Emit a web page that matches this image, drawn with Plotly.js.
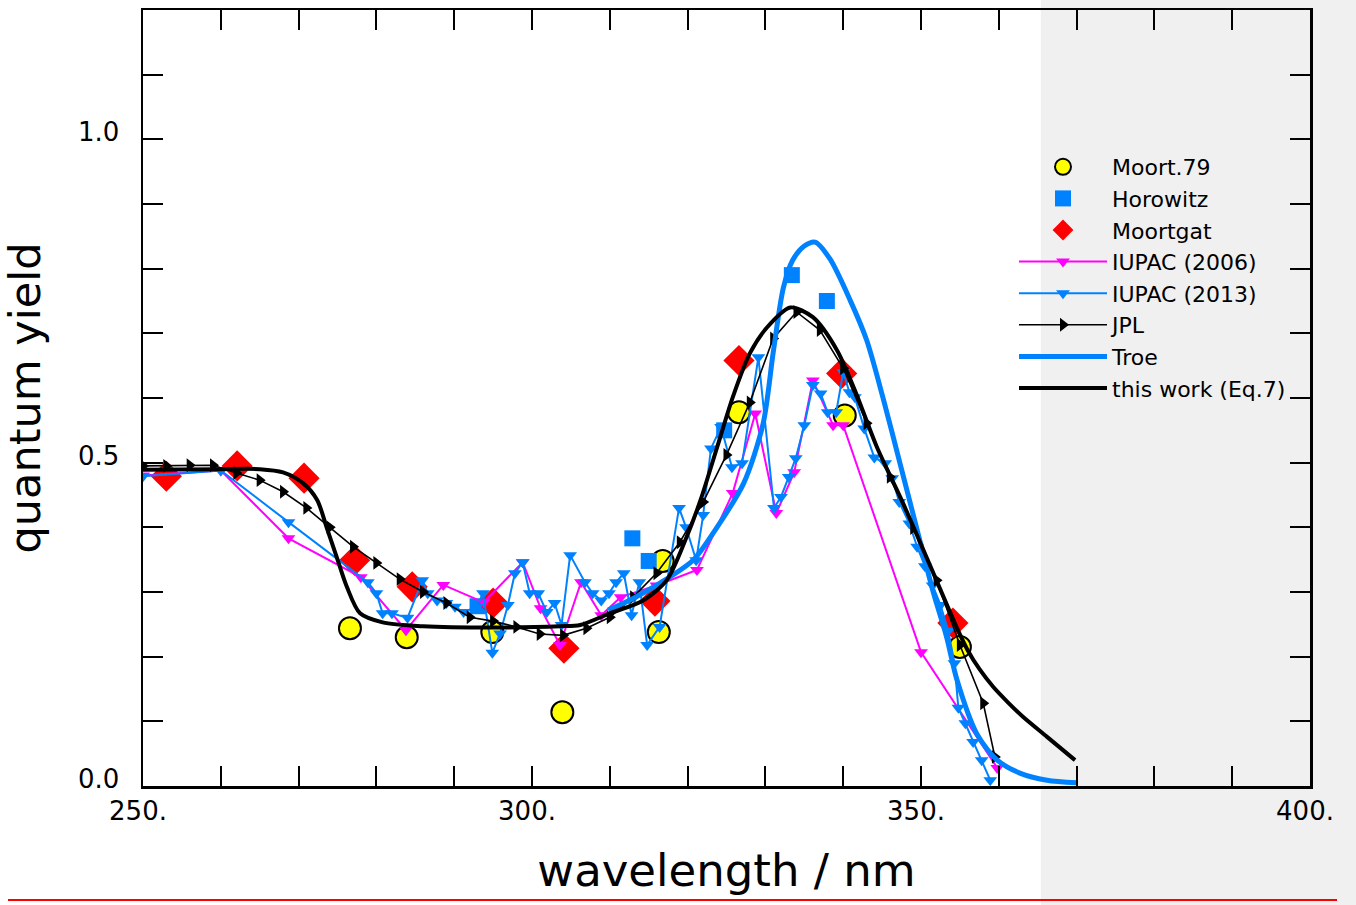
<!DOCTYPE html>
<html>
<head>
<meta charset="utf-8">
<script src="https://cdn.plot.ly/plotly-3.0.1.min.js"></script>
<style>
html,body{margin:0;padding:0;background:#fff;}
#chart{width:1356px;height:905px;}
</style>
</head>
<body>
<div id="chart"></div>
<script>
// ---------- data ----------
const moort79_x = [276.6, 283.9, 294.9, 303.9, 316.3, 316.8, 326.6, 340.2, 355.0];
const moort79_y = [0.244, 0.230, 0.238, 0.114, 0.238, 0.348, 0.578, 0.573, 0.215];

const horowitz_x = [293.0, 312.9, 315.0, 324.7, 333.4, 337.9];
const horowitz_y = [0.278, 0.383, 0.348, 0.550, 0.790, 0.750];

const moortgat_x = [253.0, 262.1, 270.7, 277.2, 284.6, 295.0, 304.1, 315.8, 326.6, 339.8, 354.1];
const moortgat_y = [0.479, 0.495, 0.476, 0.349, 0.308, 0.283, 0.213, 0.286, 0.658, 0.638, 0.252];

const iupac2006_x = [250, 260, 268.7, 278.0, 283.8, 288.6, 293.8, 298.8, 301.1, 303.6, 306.3, 308.9, 311.4, 316.0, 321.2, 325.8, 328.7, 331.4, 333.7, 336.1, 338.7, 340.0, 350.0, 359.8];
const iupac2006_y = [0.480, 0.488, 0.383, 0.323, 0.241, 0.311, 0.284, 0.346, 0.275, 0.218, 0.315, 0.264, 0.292, 0.310, 0.334, 0.453, 0.576, 0.422, 0.485, 0.627, 0.558, 0.558, 0.207, 0.028];

const iupac2013_x = [250, 260, 268.7, 278.9, 280.0, 280.8, 282.0, 284.0, 285.9, 286.6, 287.8, 289.0, 290.1, 291.2,
  292.9, 293.7, 294.9, 295.9, 296.9, 297.8, 298.8, 299.7, 300.8, 301.9, 302.9, 303.8, 304.9,
  306.8, 307.8, 308.9, 309.9, 310.8, 311.8, 312.8, 313.8, 314.8, 316.4,
  318.9, 319.8, 321.1, 322.0, 323.0, 324.3, 325.7, 327.0,
  329.1, 331.1, 332.0, 333.0, 333.9, 335.0, 336.1, 337.1, 338.0, 339.1,
  340.0, 340.8, 341.5, 342.7, 344.0, 345.4, 346.3, 347.2, 348.5, 349.5,
  350.5, 351.5, 352.5, 353.5, 354.3, 354.8, 355.7, 356.7, 357.8, 358.9];
const iupac2013_y = [0.479, 0.488, 0.408, 0.315, 0.298, 0.267, 0.267, 0.260, 0.318, 0.298, 0.287, 0.283, 0.277, 0.269,
  0.277, 0.298, 0.206, 0.236, 0.280, 0.329, 0.346, 0.298, 0.298, 0.269, 0.283, 0.249, 0.357,
  0.315, 0.298, 0.287, 0.298, 0.315, 0.329, 0.264, 0.315, 0.218, 0.246,
  0.430, 0.400, 0.349, 0.419, 0.522, 0.555, 0.493, 0.499,
  0.663, 0.430, 0.447, 0.478, 0.507, 0.558, 0.620, 0.607, 0.578, 0.578,
  0.640, 0.609, 0.601, 0.553, 0.508, 0.499, 0.476, 0.439, 0.406, 0.370,
  0.340, 0.310, 0.280, 0.240, 0.190, 0.121, 0.097, 0.068, 0.040, 0.009];

const jpl_x = [250, 253, 256, 259, 262, 265, 268, 271, 274, 277, 280, 283, 286, 289, 292, 295, 298, 301, 304, 307,
  310, 313, 316, 319, 322, 325, 328, 331, 334, 337, 340, 343, 346, 349, 352, 355, 358, 359.5];
const jpl_y = [0.495, 0.495, 0.496, 0.496, 0.484, 0.473, 0.455, 0.430, 0.400, 0.370, 0.345, 0.320, 0.300, 0.283, 0.261, 0.255, 0.246, 0.235, 0.233, 0.244,
  0.261, 0.292, 0.329, 0.377, 0.439, 0.512, 0.593, 0.692, 0.733, 0.705, 0.646, 0.561, 0.478, 0.399, 0.318, 0.218, 0.128, 0.045];

const troe_x = [309.8, 313.0, 316.5, 320.7, 323.5, 327.2, 329.7, 331.0, 332.3, 333.5, 335.0, 336.4, 338.3, 340.9, 343.0,
  345.1, 347.3, 349.5, 351.5, 353.3, 354.6, 357.2, 359.8, 362.7, 366.2, 370.0];
const troe_y = [0.272, 0.290, 0.314, 0.349, 0.395, 0.468, 0.560, 0.670, 0.770, 0.813, 0.835, 0.841, 0.815, 0.751, 0.690,
  0.601, 0.499, 0.396, 0.303, 0.230, 0.165, 0.080, 0.040, 0.020, 0.009, 0.005];

const thiswork_x = [250, 260, 265, 268, 270.6, 272.4, 273.6, 274.9, 276.2, 277.9, 280.8, 286, 295, 303.6, 306.2, 310, 314.3, 317.3,
  319.7, 321.6, 323.8, 325.8, 328, 330.2, 333.2, 336.1, 339.2, 341.5, 344.3, 347.7, 351.2, 354.6, 356.0, 357.5, 359.3, 361.2, 363.1, 366.2, 369.8];
const thiswork_y = [0.489, 0.490, 0.490, 0.485, 0.468, 0.442, 0.400, 0.354, 0.308, 0.267, 0.253, 0.247, 0.245, 0.247, 0.249, 0.267, 0.287, 0.318,
  0.380, 0.440, 0.524, 0.601, 0.669, 0.709, 0.740, 0.725, 0.674, 0.612, 0.525, 0.437, 0.340, 0.245, 0.210, 0.181, 0.153, 0.129, 0.107, 0.076, 0.040];

const seriesNames = ["Moort.79", "Horowitz", "Moortgat", "IUPAC (2006)", "IUPAC (2013)", "JPL", "Troe", "this work (Eq.7)"];

const xTickVals = [250, 260, 270, 280, 290, 300, 310, 320, 330, 340, 350, 360, 370, 380, 390, 400];
const xTickText = ["250.", "", "", "", "", "300.", "", "", "", "", "350.", "", "", "", "", "400."];
const yTickVals = [0.0, 0.1, 0.2, 0.3, 0.4, 0.5, 0.6, 0.7, 0.8, 0.9, 1.0, 1.1, 1.2];
const yTickText = ["0.0", "", "", "", "", "0.5", "", "", "", "", "1.0", "", ""];

const xRange = [250, 400];
const yRange = [0, 1.2];
const shadeStart = 365.4;   // start of the grey band (nm)

// ---------- styling ----------
const BLUE = "rgb(0,130,255)";
const FONT = "DejaVu Sans";

const traces = [
  {name: seriesNames[0], x: moort79_x, y: moort79_y, mode: "markers", type: "scatter",
   marker: {symbol: "circle", size: 22, color: "#ffff00", line: {color: "#000", width: 2}}},
  {name: seriesNames[1], x: horowitz_x, y: horowitz_y, mode: "markers", type: "scatter",
   marker: {symbol: "square", size: 16, color: BLUE}},
  {name: seriesNames[2], x: moortgat_x, y: moortgat_y, mode: "markers", type: "scatter",
   marker: {symbol: "diamond", size: 24, color: "#ff0000"}},
  {name: seriesNames[3], x: iupac2006_x, y: iupac2006_y, mode: "lines+markers", type: "scatter",
   line: {color: "#ff00ff", width: 2}, marker: {symbol: "triangle-down", size: 12, color: "#ff00ff"}},
  {name: seriesNames[4], x: iupac2013_x, y: iupac2013_y, mode: "lines+markers", type: "scatter",
   line: {color: BLUE, width: 2}, marker: {symbol: "triangle-down", size: 12, color: BLUE}},
  {name: seriesNames[5], x: jpl_x, y: jpl_y, mode: "lines+markers", type: "scatter",
   line: {color: "#000", width: 1.6}, marker: {symbol: "triangle-right", size: 12, color: "#000"}},
  {name: seriesNames[6], x: troe_x, y: troe_y, mode: "lines", type: "scatter",
   line: {color: BLUE, width: 5, shape: "spline", smoothing: 0.8}},
  {name: seriesNames[7], x: thiswork_x, y: thiswork_y, mode: "lines", type: "scatter",
   line: {color: "#000", width: 4, shape: "spline", smoothing: 0.8}}
];

const W = 1356, H = 905;
const M = {l: 143, r: 46, t: 10, b: 119};
const plotW = W - M.l - M.r, plotH = H - M.t - M.b;
const px2paperX = p => (p - M.l) / plotW;
const px2paperY = p => (H - M.b - p) / plotH;
const shadePaperX = (shadeStart - xRange[0]) / (xRange[1] - xRange[0]);

const axisCommon = {
  ticks: "inside", ticklen: 20, tickwidth: 2, tickcolor: "#000",
  showline: true, linecolor: "#000", linewidth: 2.5, mirror: "allticks",
  showgrid: false, zeroline: false, tickmode: "array",
  tickfont: {family: FONT, size: 26, color: "#000"}
};

const layout = {
  width: W, height: H,
  margin: M,
  paper_bgcolor: "#ffffff",
  plot_bgcolor: "rgba(0,0,0,0)",
  font: {family: FONT, color: "#000"},
  showlegend: true,
  xaxis: Object.assign({}, axisCommon, {
    range: xRange, tickvals: xTickVals, ticktext: xTickText,
    ticklabelshift: -5,
    title: {text: "wavelength / nm", font: {family: FONT, size: 45, color: "#000"}, standoff: 30}
  }),
  yaxis: Object.assign({}, axisCommon, {
    range: yRange, tickvals: yTickVals, ticktext: yTickText,
    ticklabelshift: -7, ticklabelstandoff: 16,
    title: {text: "quantum yield", font: {family: FONT, size: 43, color: "#000"}, standoff: 24}
  }),
  legend: {
    x: px2paperX(1014), y: px2paperY(146), xanchor: "left", yanchor: "top",
    bgcolor: "rgba(0,0,0,0)", borderwidth: 0,
    font: {family: FONT, size: 22, color: "#000"},
    itemwidth: 88, tracegroupgap: 0
  },
  shapes: [
    {type: "rect", xref: "paper", yref: "paper", layer: "below",
     x0: shadePaperX, x1: px2paperX(W + 5), y0: px2paperY(H + 5), y1: px2paperY(-5),
     fillcolor: "#f0f0f0", line: {width: 0}},
    {type: "line", xref: "paper", yref: "paper", layer: "above",
     x0: px2paperX(8), x1: px2paperX(1337), y0: px2paperY(900), y1: px2paperY(900),
     line: {color: "#ff0000", width: 2}}
  ]
};

Plotly.newPlot("chart", traces, layout, {displayModeBar: false, staticPlot: true});
</script>
</body>
</html>
